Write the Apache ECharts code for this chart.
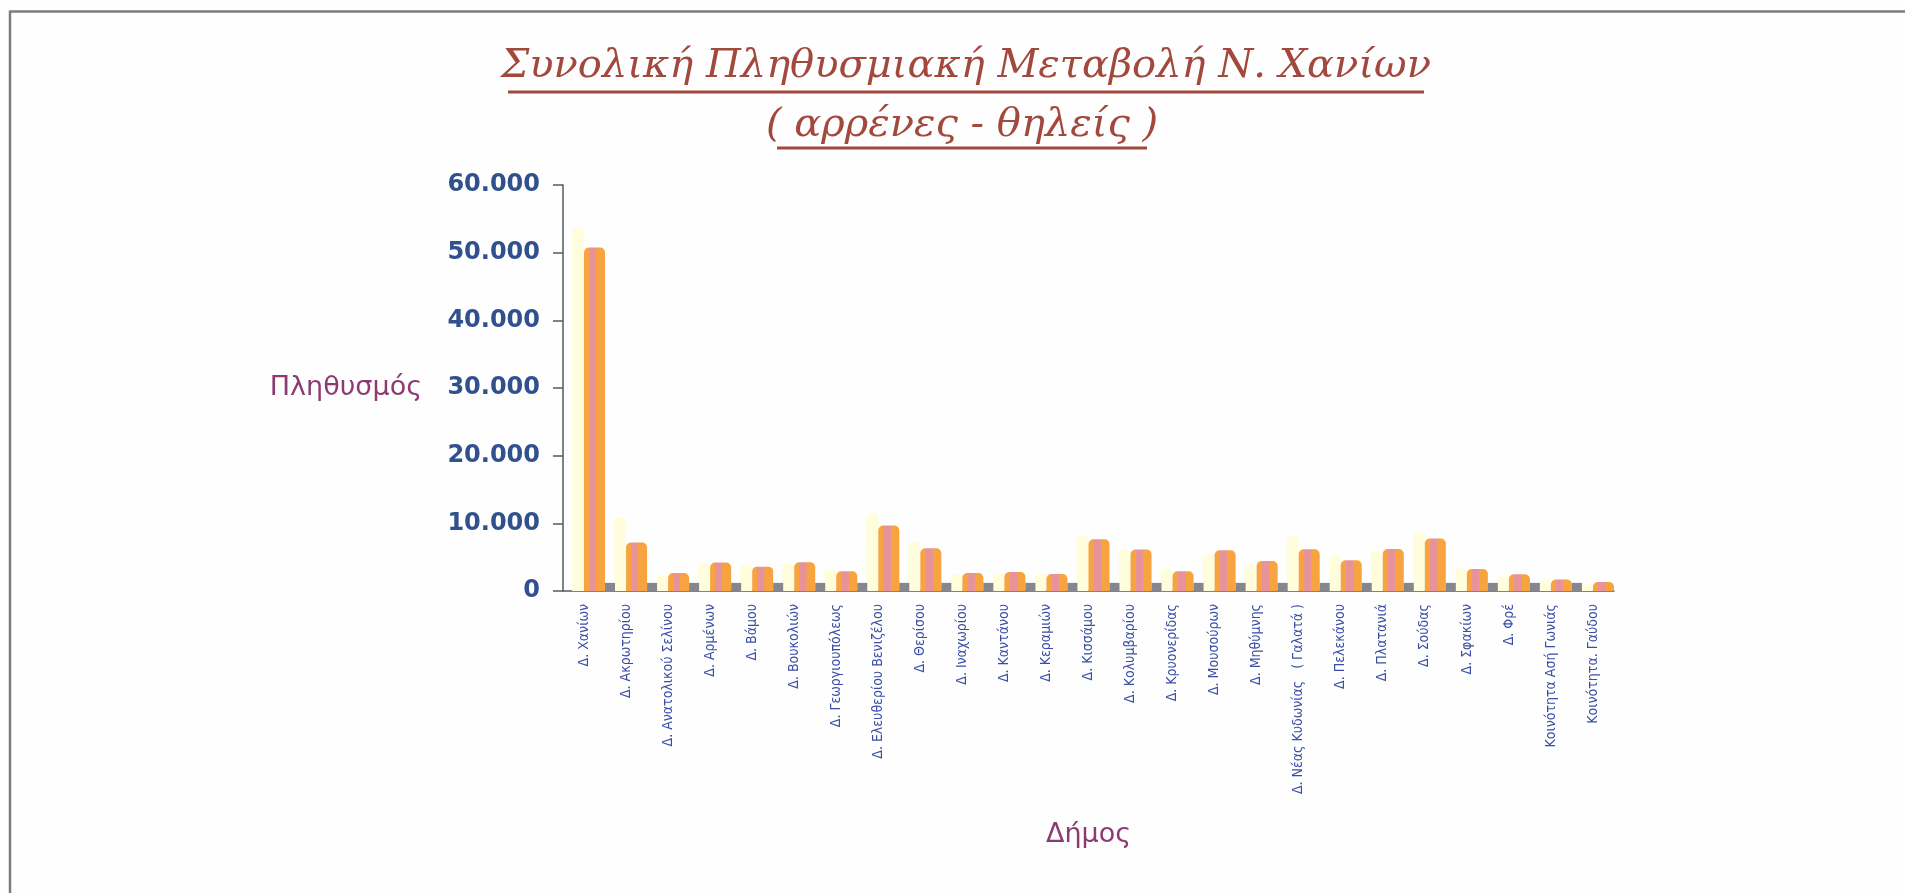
<!DOCTYPE html>
<html>
<head>
<meta charset="utf-8">
<title>Συνολική Πληθυσμιακή Μεταβολή Ν. Χανίων</title>
<script src="https://cdn.jsdelivr.net/npm/echarts@6/dist/echarts.min.js"></script>
<style>
  html, body { margin: 0; padding: 0; background: #fdfefd; }
  #chart { width: 1905px; height: 893px; }
</style>
</head>
<body>
<div id="chart"></div>
<script>
// δήμοι του νομού
const categories = [
  'Δ. Χανίων', 'Δ. Ακρωτηρίου', 'Δ. Ανατολικού Σελίνου', 'Δ. Αρμένων', 'Δ. Βάμου',
  'Δ. Βουκολιών', 'Δ. Γεωργιουπόλεως', 'Δ. Ελευθερίου Βενιζέλου', 'Δ. Θερίσου', 'Δ. Ιναχωρίου',
  'Δ. Καντάνου', 'Δ. Κεραμιών', 'Δ. Κισσάμου', 'Δ. Κολυμβαρίου', 'Δ. Κρυονερίδας',
  'Δ. Μουσούρων', 'Δ. Μηθύμνης', 'Δ. Νέας Κυδωνίας   ( Γαλατά )', 'Δ. Πελεκάνου', 'Δ. Πλατανιά',
  'Δ. Σούδας', 'Δ. Σφακίων', 'Δ. Φρέ', 'Κοινότητα Ασή Γωνιάς', 'Κοινότητα. Γαύδου'
]
// πίσω σειρά (ανοιχτό κίτρινο)
const backValues = [53600, 10950, 2320, 4050, 3950, 4140, 3260, 11490, 7250, 2420,
  2570, 2470, 8240, 6120, 3310, 5620, 3950, 8090, 5280, 6020,
  8630, 3360, 2220, 1690, 1090]
// κύρια σειρά (πορτοκαλί)
const mainValues = [50750, 7160, 2670, 4200, 3600, 4250, 2910, 9670, 6320, 2670,
  2820, 2520, 7650, 6120, 2910, 6020, 4440, 6170, 4540, 6220,
  7750, 3260, 2470, 1690, 1330]
// μπροστινή σειρά (γκρι, στο δάπεδο)
const frontValues = [1200, 1200, 1200, 1200, 1200, 1200, 1200, 1200, 1200, 1200,
  1200, 1200, 1200, 1200, 1200, 1200, 1200, 1200, 1200, 1200,
  1200, 1200, 1200, 1200, 1200]
const yTicks = [0, 10000, 20000, 30000, 40000, 50000, 60000]

function fmt (v) {
  return String(v).replace(/\B(?=(\d{3})+(?!\d))/g, '.')
}

const titleFont = 'italic 40px "DejaVu Serif", serif'

let myChart = echarts.init(document.getElementById('chart'))
myChart.setOption({
  backgroundColor: '#fdfefd',
  animation: false,
  grid: {
    left: 563,
    right: 291,
    top: 185,
    bottom: 302
  },
  xAxis: {
    type: 'category',
    data: categories,
    name: 'Δήμος',
    nameLocation: 'middle',
    nameGap: 230,
    nameTextStyle: {
      color: '#8e3a72',
      fontFamily: 'DejaVu Sans',
      fontSize: 27
    },
    axisLine: { lineStyle: { color: '#555a60', width: 1.5 } },
    axisTick: { length: 9, lineStyle: { color: '#555a60', width: 1.5 } },
    axisLabel: {
      rotate: 90,
      interval: 0,
      margin: 13,
      color: '#3a4ea6',
      fontFamily: 'DejaVu Sans Condensed, sans-serif',
      fontSize: 14
    }
  },
  yAxis: {
    type: 'value',
    min: yTicks[0],
    max: yTicks[yTicks.length - 1],
    interval: 10000,
    name: 'Πληθυσμός',
    nameLocation: 'middle',
    nameRotate: 0,
    nameGap: 141,
    nameTextStyle: {
      color: '#8e3a72',
      fontFamily: 'DejaVu Sans',
      fontSize: 27,
      align: 'right',
      verticalAlign: 'middle'
    },
    axisLine: { show: true, lineStyle: { color: '#555a60', width: 1.5 } },
    axisTick: { show: true, length: 10, lineStyle: { color: '#555a60', width: 1.5 } },
    splitLine: { show: false },
    axisLabel: {
      margin: 23,
      color: '#30508e',
      fontFamily: 'DejaVu Sans',
      fontWeight: 'bold',
      fontSize: 24,
      formatter: function (value) {
        return fmt(value)
      }
    }
  },
  graphic: [
    {
      type: 'text',
      x: 966,
      y: 67,
      style: {
        text: 'Συνολική Πληθυσμιακή Μεταβολή Ν. Χανίων',
        fill: '#a2483c',
        font: titleFont,
        align: 'center',
        verticalAlign: 'middle'
      }
    },
    {
      type: 'text',
      x: 962,
      y: 126,
      style: {
        text: '( αρρένες - θηλείς )',
        fill: '#a2483c',
        font: titleFont,
        align: 'center',
        verticalAlign: 'middle'
      }
    },
    {
      type: 'line',
      shape: { x1: 508, y1: 92, x2: 1424, y2: 92 },
      style: { stroke: '#a2483c', lineWidth: 3 }
    },
    {
      type: 'line',
      shape: { x1: 777, y1: 148, x2: 1147, y2: 148 },
      style: { stroke: '#a2483c', lineWidth: 3 }
    },
    {
      type: 'line',
      shape: { x1: 9, y1: 11.5, x2: 1905, y2: 11.5 },
      style: { stroke: '#7a7c7e', lineWidth: 2.5 }
    },
    {
      type: 'line',
      shape: { x1: 10, y1: 11, x2: 10, y2: 893 },
      style: { stroke: '#7a7c7e', lineWidth: 2.5 }
    }
  ],
  series: [
    {
      // κενό για τη μετατόπιση των ράβδων
      type: 'bar',
      name: 'spacer',
      data: [],
      barWidth: 19,
      barGap: '0%',
      silent: true
    },
    {
      type: 'bar',
      name: 'Σειρά 1',
      data: backValues,
      barWidth: 12,
      barGap: '0%',
      itemStyle: {
        color: '#fffddc',
        borderRadius: [5, 5, 0, 0]
      }
    },
    {
      type: 'bar',
      name: 'Σειρά 2',
      data: mainValues,
      barWidth: 21,
      barGap: '0%',
      itemStyle: {
        borderRadius: [5, 5, 0, 0],
        color: new echarts.graphic.LinearGradient(0, 0, 1, 0, [
          { offset: 0, color: '#f6a340' },
          { offset: 0.24, color: '#f6a340' },
          { offset: 0.25, color: '#e8939a' },
          { offset: 0.58, color: '#e8939a' },
          { offset: 0.59, color: '#f6a340' },
          { offset: 1, color: '#f6a340' }
        ])
      }
    },
    {
      type: 'bar',
      name: 'Σειρά 3',
      data: frontValues,
      barWidth: 10,
      barGap: '0%',
      itemStyle: {
        color: '#85868e'
      }
    }
  ]
})
window.addEventListener('resize', function () {
  myChart.resize()
})
</script>
</body>
</html>
